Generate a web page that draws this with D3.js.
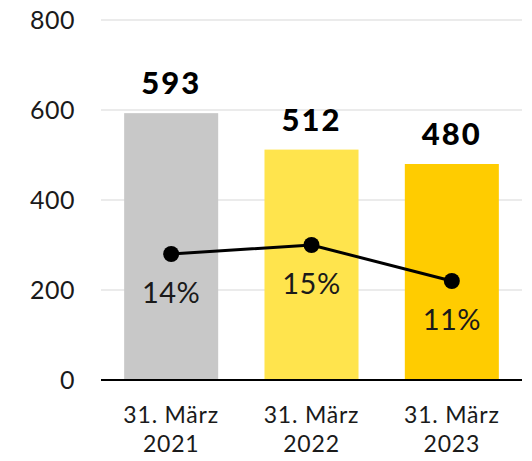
<!DOCTYPE html>
<html>
<head>
<meta charset="utf-8">
<script src="https://cdn.jsdelivr.net/npm/d3@7"></script>
<style>
  body { margin: 0; background: #fff; }
  svg { display: block; font-family: Lato, "Open Sans", sans-serif; }
</style>
</head>
<body>
<div id="chart"></div>
<script>
// categories, bar values and the share line (percent labels placed on the same axis)
var categories = ["31. März|2021", "31. März|2022", "31. März|2023"];
var barValues = [593, 512, 480];
var barColors = ["#c8c8c8", "#ffe44d", "#ffcc00"];
var lineValues = [280, 300, 220];
var lineLabels = ["14%", "15%", "11%"];
var yTicks = [0, 200, 400, 600, 800];

var width = 532, height = 461;
var plotLeft = 101, plotRight = 522, plotTop = 20, plotBottom = 380;

var svg = d3.select("#chart").append("svg")
	.attr("width", width)
	.attr("height", height);

var x = d3.scaleBand().domain(categories).range([plotLeft, plotRight]).paddingInner(0.33).paddingOuter(0.165);
var y = d3.scaleLinear().domain([0, 800]).range([plotBottom, plotTop]);

// gridlines
svg.append("g").selectAll("line")
	.data(yTicks.filter(function(d){ return d > 0; }))
	.enter().append("line")
	.attr("x1", plotLeft).attr("x2", plotRight)
	.attr("y1", function(d){ return y(d); }).attr("y2", function(d){ return y(d); })
	.attr("stroke", "#ebebeb").attr("stroke-width", 2);

// y axis labels
var yAxis = svg.append("g")
	.attr("transform", "translate(" + plotLeft + ",0)")
	.call(d3.axisLeft(y).tickValues(yTicks).tickSize(0).tickPadding(26));
yAxis.select(".domain").remove();
yAxis.selectAll("text")
	.attr("font-size", 25).attr("fill", "#1a1a1a").attr("font-family", "Lato, sans-serif")
	.attr("letter-spacing", 0.5);

// bars
svg.append("g").selectAll("rect")
	.data(barValues)
	.enter().append("rect")
	.attr("x", function(d, i){ return x(categories[i]); })
	.attr("width", x.bandwidth())
	.attr("y", function(d){ return y(d); })
	.attr("height", function(d){ return y(0) - y(d); })
	.attr("fill", function(d, i){ return barColors[i]; });

// value labels
svg.append("g").selectAll("text")
	.data(barValues)
	.enter().append("text")
	.attr("x", function(d, i){ return x(categories[i]) + x.bandwidth() / 2; })
	.attr("y", function(d){ return y(d) - 19; })
	.attr("text-anchor", "middle")
	.attr("font-size", 31).attr("font-weight", 900).attr("fill", "#000")
	.attr("letter-spacing", 2)
	.text(function(d){ return d; });

// baseline
svg.append("line")
	.attr("x1", plotLeft).attr("x2", plotRight)
	.attr("y1", y(0)).attr("y2", y(0))
	.attr("stroke", "#000").attr("stroke-width", 2);

// x labels (two lines)
var xl = svg.append("g").selectAll("text")
	.data(categories)
	.enter().append("text")
	.attr("text-anchor", "middle")
	.attr("font-size", 23).attr("fill", "#1a1a1a")
	.attr("letter-spacing", 0.8);
xl.each(function(d){
	var parts = d.split("|");
	var t = d3.select(this);
	parts.forEach(function(p, k){
		t.append("tspan")
			.attr("x", x(d) + x.bandwidth() / 2)
			.attr("y", 423 + k * 29)
			.text(p);
	});
});

// line with dots
var cx = function(d, i){ return x(categories[i]) + x.bandwidth() / 2; };
var line = d3.line()
	.x(function(d, i){ return cx(d, i); })
	.y(function(d){ return y(d); });
svg.append("path")
	.datum(lineValues)
	.attr("d", line)
	.attr("fill", "none").attr("stroke", "#000").attr("stroke-width", 3);
svg.append("g").selectAll("circle")
	.data(lineValues)
	.enter().append("circle")
	.attr("cx", cx)
	.attr("cy", function(d){ return y(d); })
	.attr("r", 8).attr("fill", "#000");

// percent labels
svg.append("g").selectAll("text")
	.data(lineValues)
	.enter().append("text")
	.attr("x", cx)
	.attr("y", function(d){ return y(d) + 49; })
	.attr("text-anchor", "middle")
	.attr("font-size", 29).attr("fill", "#1a1a1a")
	.attr("letter-spacing", 0.5)
	.text(function(d, i){ return lineLabels[i]; });
</script>
</body>
</html>
